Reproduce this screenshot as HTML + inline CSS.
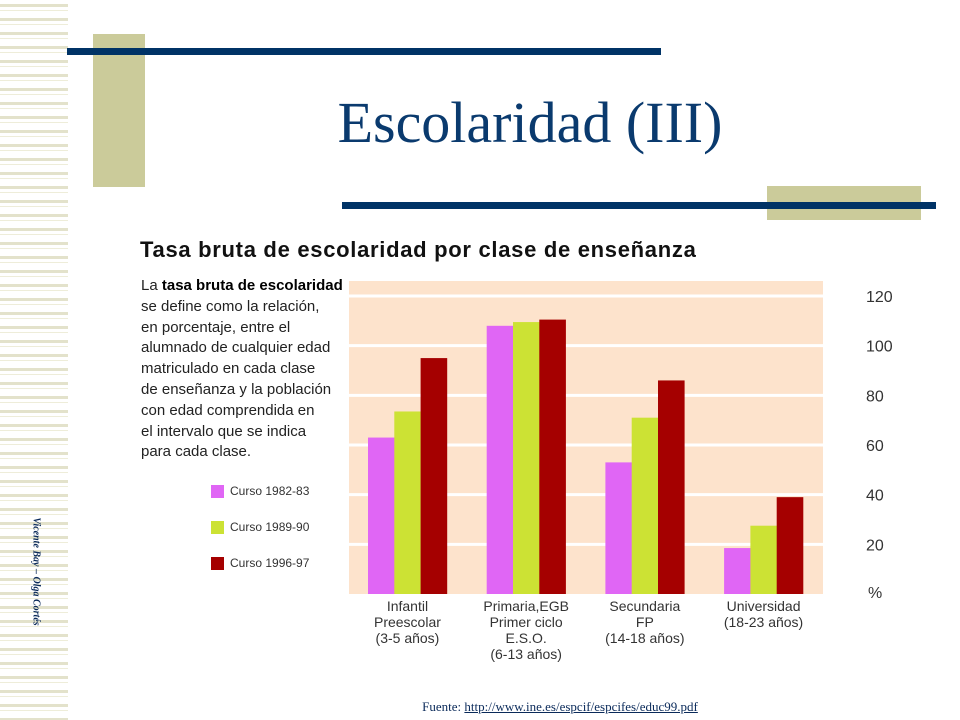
<!DOCTYPE html>
<html><head><meta charset="utf-8"><style>
body{margin:0;width:960px;height:720px;overflow:hidden;background:#fff;position:relative;font-family:"Liberation Sans",sans-serif}
.abs{position:absolute}
#stripes{left:0;top:0;width:68px;height:720px;background:repeating-linear-gradient(180deg,#fff 0,#fff 4px,#e3e2cb 4px,#e3e2cb 7px,#fff 7px,#fff 10px,#eeedd9 10px,#eeedd9 11px,#fff 11px,#fff 14px)}
.para{left:141px;top:276px;font-size:15px;line-height:20.8px;color:#222}
.leg{font-size:12px;color:#333}
</style></head><body>
<div id="stripes" class="abs"></div>
<div class="abs" style="left:-32px;top:566px;width:136px;transform:rotate(90deg);font-size:10px;font-weight:bold;font-style:italic;color:#0a2a5a;text-align:center;font-family:'Liberation Serif',serif">Vicente Bay – Olga Cortés</div>
<div class="abs" style="left:93px;top:34px;width:52px;height:153px;background:#cbcb9a"></div>
<div class="abs" style="left:67px;top:48px;width:594px;height:7px;background:#003366"></div>
<div class="abs" style="left:767px;top:186px;width:154px;height:34px;background:#cbcb9a"></div>
<div class="abs" style="left:342px;top:202px;width:594px;height:7px;background:#003366"></div>
<div class="abs" style="left:300px;top:89px;width:460px;text-align:center;font-family:'Liberation Serif',serif;font-size:58px;color:#0a3a6e">Escolaridad (III)</div>
<div class="abs" style="left:140px;top:237px;font-size:22px;font-weight:bold;color:#111;letter-spacing:0.7px">Tasa bruta de escolaridad por clase de enseñanza</div>
<div class="abs para">La <span style="color:#000;font-weight:600">tasa bruta de escolaridad</span><br>se define como la relación,<br>en porcentaje, entre el<br>alumnado de cualquier edad<br>matriculado en cada clase<br>de enseñanza y la población<br>con edad comprendida en<br>el intervalo que se indica<br>para cada clase.</div>
<div class="abs" style="left:211px;top:485px"><span class="abs" style="width:13px;height:13px;background:#e066f5"></span><span class="abs leg" style="left:19px;top:-1px;white-space:nowrap">Curso 1982-83</span></div>
<div class="abs" style="left:211px;top:521px"><span class="abs" style="width:13px;height:13px;background:#cce234"></span><span class="abs leg" style="left:19px;top:-1px;white-space:nowrap">Curso 1989-90</span></div>
<div class="abs" style="left:211px;top:557px"><span class="abs" style="width:13px;height:13px;background:#a50000"></span><span class="abs leg" style="left:19px;top:-1px;white-space:nowrap">Curso 1996-97</span></div>
<svg id="chart" class="abs" style="left:0;top:0" width="960" height="720"></svg>
<div class="abs" style="left:340px;top:699px;width:440px;text-align:center;font-family:'Liberation Serif',serif;font-size:13px;color:#0a2a5a">Fuente: <a style="color:#0a2a5a;text-decoration:underline">http://www.ine.es/espcif/espcifes/educ99.pdf</a></div>
<script>
const categories=[["Infantil","Preescolar","(3-5 años)"],["Primaria,EGB","Primer ciclo","E.S.O.","(6-13 años)"],["Secundaria","FP","(14-18 años)"],["Universidad","(18-23 años)"]];
const s1982=[63,108,53,18.5];
const s1989=[73.5,109.5,71,27.5];
const s1996=[95,110.5,86,39];
const yTicks=[20,40,60,80,100,120];
const series=[s1982,s1989,s1996];
const colors=["#e066f5","#cce234","#a50000"];
const NS="http://www.w3.org/2000/svg";
const svg=document.getElementById('chart');
const X0=349,X1=823,TOP=281,Y0=594,Y120=296;
const y=v=>Y0-(Y0-Y120)*v/120;
const groupX=i=>368+i*118.7;
const BW=26.3;
function mk(t,a){const e=document.createElementNS(NS,t);for(const k in a)e.setAttribute(k,a[k]);svg.appendChild(e);return e;}
let bg=mk('rect',{x:X0,y:TOP,width:X1-X0,height:Y0-TOP,fill:'#fde3cc'});


yTicks.forEach(t=>{
 const l=mk('line',{x1:X0,x2:X1,y1:y(t),y2:y(t),stroke:'#fff','stroke-width':3});
 
 
 const tx=mk('text',{x:866,y:y(t)+6,'font-size':16,fill:'#333','font-family':'Liberation Sans, sans-serif'});
 tx.textContent=t;
 
 
});
const pct=mk('text',{x:868,y:Y0+4,'font-size':16,fill:'#333','font-family':'Liberation Sans, sans-serif'});
pct.textContent='%';


series.forEach((s,si)=>s.forEach((v,i)=>{
 const r=mk('rect',{x:groupX(i)+si*BW,y:y(v),width:BW+0.3,height:Y0-y(v),fill:colors[si]});
 
 
}));
categories.forEach((c,i)=>{
 const cx=groupX(i)+BW*1.5;
 const t=mk('text',{x:cx,'text-anchor':'middle','font-size':14,fill:'#333','font-family':'Liberation Sans, sans-serif'});
 
 
 c.forEach((line,j)=>{const ts=document.createElementNS(NS,'tspan');ts.setAttribute('x',cx);ts.setAttribute('y',611+j*16);ts.textContent=line;t.appendChild(ts);});
});
</script>
</body></html>
